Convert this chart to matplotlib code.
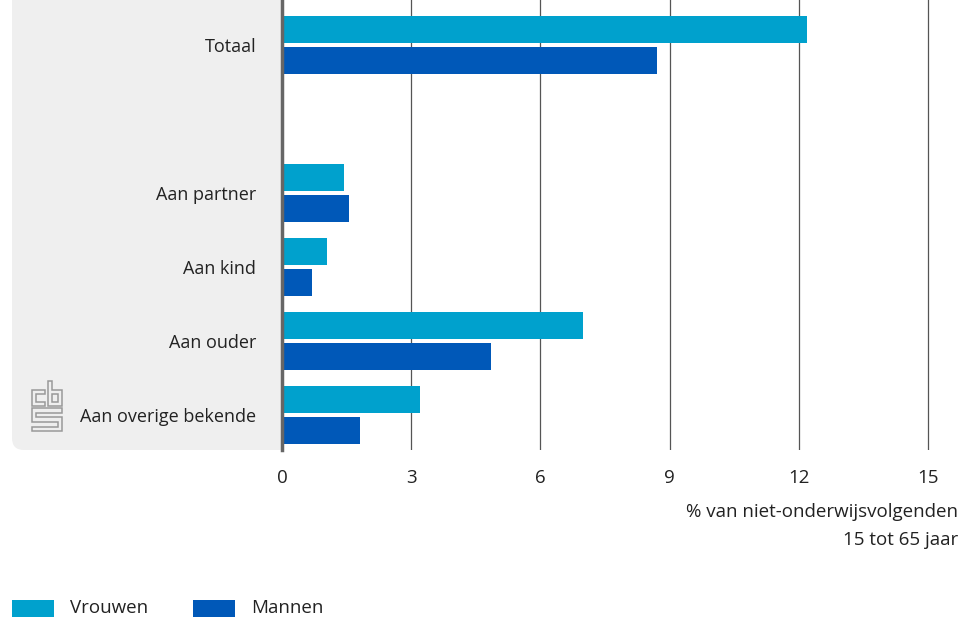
import numpy as np
import matplotlib.pyplot as plt
from matplotlib.patches import FancyBboxPatch, Rectangle, Polygon

plt.rcParams['font.family'] = ['Open Sans', 'DejaVu Sans']

# Data
categories = ['Totaal', '', 'Aan partner', 'Aan kind', 'Aan ouder', 'Aan overige bekende']
vrouwen = [12.2, np.nan, 1.45, 1.05, 7.0, 3.2]
mannen = [8.7, np.nan, 1.55, 0.7, 4.85, 1.8]
series_names = ['Vrouwen', 'Mannen']
colors = ['#00a1cd', '#0058b8']
xticks = [0, 3, 6, 9, 12, 15]

W, H = 968, 619
fs = 13.5
fig = plt.figure(figsize=(W / 100, H / 100), dpi=100)

# background layer in pixel coordinates
bg = fig.add_axes([0, 0, 1, 1], zorder=0)
bg.set_xlim(0, W)
bg.set_ylim(H, 0)
bg.axis('off')
bg.add_patch(FancyBboxPatch((12, -40), 270, 490, boxstyle='round,pad=0,rounding_size=12',
                            facecolor='#efefef', edgecolor='none'))
bg.add_patch(Rectangle((200, 400), 82, 50, facecolor='#efefef', edgecolor='none'))

# legend
for name, c, x0 in zip(series_names, colors, [12, 193]):
    bg.add_patch(Rectangle((x0, 600), 42, 17, facecolor=c, edgecolor='none'))
    bg.text(x0 + 58, 608, name, ha='left', va='center', fontsize=fs, color='#222222')

bg.text(958, 512, '% van niet-onderwijsvolgenden', ha='right', va='center',
        fontsize=fs, color='#222222')
bg.text(958, 540, '15 tot 65 jaar', ha='right', va='center', fontsize=fs, color='#222222')

# cbs logo (outlined letters)
logo = [
    [(32, 390), (45, 390), (45, 394), (36, 394), (36, 402), (45, 402), (45, 406), (32, 406)],
    [(48, 381), (52, 381), (52, 390), (62, 390), (62, 406), (48, 406)],
    [(52, 394), (58, 394), (58, 402), (52, 402)],
    [(32, 408), (62, 408), (62, 412.5), (36, 412.5), (36, 417), (62, 417), (62, 431),
     (32, 431), (32, 426.5), (58, 426.5), (58, 421.5), (32, 421.5)],
]
for pts in logo:
    bg.add_patch(Polygon(pts, closed=True, fill=False, edgecolor='#999999', linewidth=1.1))

# main chart
xmax = 15.5
ax = fig.add_axes([282 / W, (H - 450) / H, xmax * (928 - 282) / 15 / W, 450 / H], zorder=1)
ax.patch.set_alpha(0)

y = np.arange(len(categories))
h = 0.365
off = 0.21
ax.barh(y - off, vrouwen, height=h, color=colors[0], zorder=3)
ax.barh(y + off, mannen, height=h, color=colors[1], zorder=3)

ax.set_xlim(0, xmax)
ax.set_ylim(5.47, -0.61)
ax.set_yticks(y)
ax.set_yticklabels(categories, fontsize=13, color='#222222')
ax.tick_params(axis='y', length=0, pad=18.5)
ax.set_xticks(xticks)
ax.set_xticklabels([str(t) for t in xticks], fontsize=fs, color='#222222')
ax.tick_params(axis='x', length=0, pad=14)
for t in xticks[1:]:
    ax.axvline(t, color='#555555', linewidth=0.9, zorder=1)
ax.axvline(0, color='#666666', linewidth=2.5, zorder=4, clip_on=False)
for s in ax.spines.values():
    s.set_visible(False)

fig.savefig('out.png', dpi=100)
